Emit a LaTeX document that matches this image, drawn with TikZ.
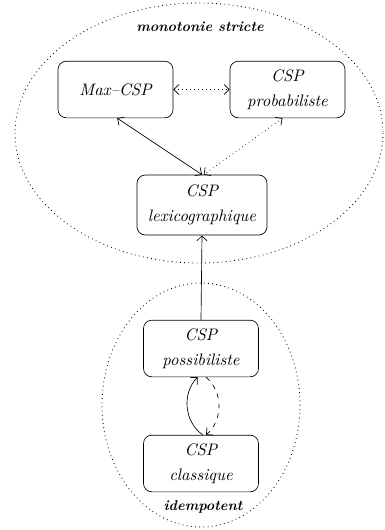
\documentclass[tikz,border=0pt]{standalone}
\usetikzlibrary{arrows.meta}

\tikzset{
  cspbox/.style={draw, rounded corners=5pt, minimum width=69pt, minimum height=34pt,
    align=center, font=\itshape, inner sep=2pt},
  zonelabel/.style={font=\fontsize{8.6}{10}\selectfont\bfseries\itshape},
  >={Straight Barb[length=3pt,width=6pt]}
}

\begin{document}
\begin{tikzpicture}[x=0.6pt,y=-0.6pt]
\useasboundingbox (0,0) rectangle (385,530);

% Zones
\draw[dotted, line width=0.5pt] (199,133) ellipse [x radius=184, y radius=130];
\draw[dotted, line width=0.5pt] (201,405) ellipse [x radius=99, y radius=122];
\node[zonelabel] (strict) at (200,27) {monotonie stricte};
\node[zonelabel] (idem) at (203,507) {idempotent};

% Frameworks
\node[cspbox] (maxcsp) at (115.5,89.5) {Max--CSP};
\node[cspbox] (proba) at (287.5,89.5) {CSP\\[3pt]probabiliste};
\node[cspbox, minimum width=78pt, minimum height=36pt] (lexico) at (202,205) {CSP\\[3pt]lexicographique};
\node[cspbox] (possib) at (201,348.5) {CSP\\[3pt]possibiliste};
\node[cspbox] (classique) at (201,463.5) {CSP\\[3pt]classique};

% Links
\draw[<->, dotted] (maxcsp.east) -- (proba.west);
\draw[<->] ([xshift=1pt]maxcsp.south) -- (lexico.north);
\draw[<->, dotted] ([xshift=-3pt]proba.south) -- ([xshift=1pt]lexico.north);
\draw[->] (possib.north) -- (lexico.south);
\draw[->] ([xshift=1pt]classique.north) to[bend left=50] ([xshift=-2pt]possib.south);
\draw[->, dashed] ([xshift=3pt]possib.south) to[bend left=50] ([xshift=3pt]classique.north);
\end{tikzpicture}
\end{document}
